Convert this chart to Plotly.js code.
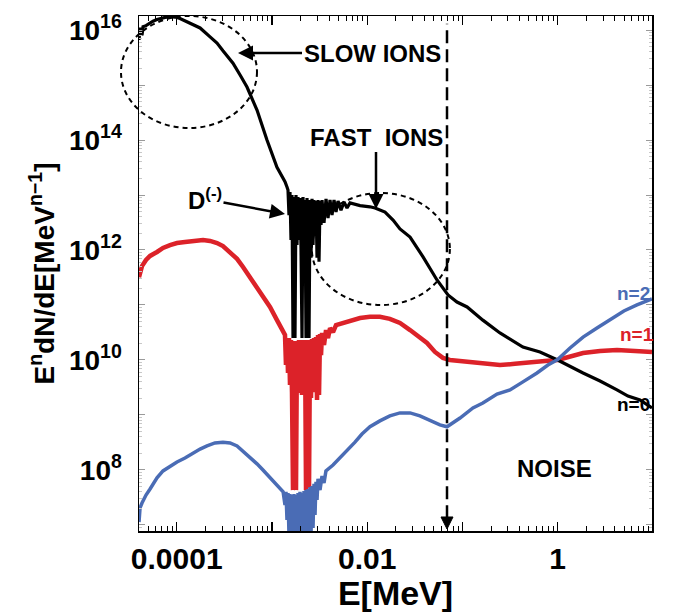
<!DOCTYPE html>
<html>
<head>
<meta charset="utf-8">
<script src="https://cdn.plot.ly/plotly-3.0.1.min.js"></script>
<style>html,body{margin:0;padding:0;background:#fff;}#chart{width:680px;height:612px;}</style>
</head>
<body>
<div id="chart"></div>
<script>
// ---- Data (E in MeV, E^n dN/dE) ----
const n0E = [4.02e-5,4.12e-5,4.32e-5,4.43e-5,4.76e-5,5.25e-5,5.64e-5,6.21e-5,6.68e-5,7.54e-5,8.51e-5,9.60e-5,1.083e-4,1.165e-4,1.38e-4,1.76e-4,2.24e-4,2.65e-4,3.06e-4,3.90e-4,4.63e-4,5.47e-4,6.97e-4,8.87e-4,1.13e-3,1.371e-3,1.439e-3,
  1.474e-3,1.510e-3,1.547e-3,1.585e-3,1.624e-3,1.664e-3,1.704e-3,1.746e-3,1.789e-3,1.833e-3,1.878e-3,1.924e-3,1.971e-3,2.019e-3,2.069e-3,2.119e-3,2.171e-3,2.225e-3,2.279e-3,2.335e-3,2.392e-3,2.451e-3,2.511e-3,2.572e-3,2.635e-3,2.700e-3,2.766e-3,2.834e-3,2.903e-3,2.974e-3,3.047e-3,3.122e-3,3.198e-3,3.277e-3,3.357e-3,3.523e-3,3.698e-3,3.881e-3,4.073e-3,4.275e-3,4.487e-3,4.709e-3,4.943e-3,5.31e-3,5.71e-3,6.14e-3,6.60e-3,
  8.42e-3,1.07e-2,1.21e-2,1.54e-2,1.87e-2,2.21e-2,2.82e-2,3.86e-2,4.57e-2,5.41e-2,7.06e-2,8.77e-2,0.112,0.1355,0.164,0.248,0.432,0.653,1.0,1.85,2.79,4.20,5.48,7.32,9.79];
const n0Y = [6.6e15,1.1e16,8.0e15,1.15e16,1.2e16,1.35e16,1.45e16,1.55e16,1.62e16,1.70e16,1.75e16,1.72e16,1.62e16,1.52e16,1.35e16,1.09e16,7.5e15,5.8e15,4.2e15,2.5e15,1.52e15,9.2e14,3.5e14,1.0e14,3.2e13,1.75e13,1.4e13,
  1.23e13,4.3e12,1.13e13,1.52e12,1.0e13,2.5e10,9.2e12,2.5e10,1.0e13,1.23e12,9.2e12,1.52e12,8.8e12,1.09e12,2.5e10,9.2e12,1.0e12,8.1e12,2.5e10,8.8e12,9.2e11,2.5e10,8.1e12,7.2e11,8.5e12,1.23e12,8.1e12,1.87e12,7.8e12,7.2e11,8.1e12,6.1e11,7.8e12,2.85e12,8.1e12,3.1e12,8.5e12,3.8e12,8.1e12,4.3e12,8.1e12,4.9e12,7.8e12,5.3e12,7.5e12,5.8e12,7.2e12,
  6.4e12,6.1e12,5.8e12,4.9e12,3.5e12,2.41e12,1.72e12,7.5e11,4.7e11,2.85e11,1.52e11,1.13e11,9.2e10,6.9e10,5.3e10,3.1e10,1.72e10,1.40e10,1.0e10,5.8e9,4.15e9,2.85e9,2.2e9,1.87e9,1.34e9];

const n1E = [4.02e-5,4.32e-5,4.76e-5,5.25e-5,6.21e-5,7.18e-5,8.51e-5,1.007e-4,1.222e-4,1.48e-4,1.89e-4,2.24e-4,2.65e-4,3.06e-4,3.63e-4,4.30e-4,4.97e-4,5.89e-4,6.97e-4,8.05e-4,9.54e-4,1.13e-3,1.31e-3,
  1.371e-3,1.404e-3,1.439e-3,1.474e-3,1.510e-3,1.547e-3,1.585e-3,1.624e-3,1.664e-3,1.704e-3,1.746e-3,1.789e-3,1.833e-3,1.878e-3,1.924e-3,1.971e-3,2.019e-3,2.069e-3,2.119e-3,2.171e-3,2.225e-3,2.279e-3,2.335e-3,2.392e-3,2.451e-3,2.511e-3,2.572e-3,2.635e-3,2.700e-3,2.766e-3,2.834e-3,2.903e-3,2.974e-3,3.047e-3,3.122e-3,3.198e-3,3.277e-3,3.357e-3,3.523e-3,3.698e-3,3.881e-3,4.073e-3,4.38e-3,4.709e-3,
  5.19e-3,6.6e-3,8.42e-3,1.07e-2,1.36e-2,1.73e-2,2.21e-2,2.82e-2,3.58e-2,4.25e-2,5.15e-2,6.25e-2,7.39e-2,0.112,0.153,0.248,0.356,0.512,0.736,1.0,1.35,1.85,2.79,4.20,6.48,9.79];
const n1Y = [3.2e11,5.1e11,6.6e11,7.8e11,9.2e11,1.09e12,1.23e12,1.34e12,1.40e12,1.46e12,1.52e12,1.46e12,1.34e12,1.18e12,9.2e11,6.9e11,4.9e11,3.2e11,2.1e11,1.40e11,9.2e10,5.3e10,3.5e10,
  2.85e10,8.1e9,2.5e10,5.8e9,2.5e10,3.5e9,2.3e10,2.5e9,4.3e7,2.21e10,2.85e9,4.3e7,2.21e10,2.5e9,2.3e10,4.3e9,2.21e10,2.3e9,2.3e10,3.5e9,2.21e10,4.3e7,2.3e10,2.3e9,4.7e7,2.3e10,2.04e9,2.41e10,2.6e9,2.5e10,5.3e9,2.6e10,1.87e9,2.85e10,2.3e9,2.97e10,1.23e10,3.1e10,1.87e10,3.5e10,2.5e10,3.8e10,3.2e10,4.3e10,
  4.5e10,5.1e10,5.8e10,6.1e10,6.1e10,5.6e10,4.7e10,3.5e10,2.5e10,2.04e10,1.40e10,1.09e10,1.0e10,9.2e9,8.8e9,8.1e9,8.5e9,9.2e9,9.6e9,1.0e10,1.18e10,1.34e10,1.46e10,1.52e10,1.46e10,1.40e10];

const n2E = [4.02e-5,4.12e-5,4.32e-5,4.76e-5,5.25e-5,6.21e-5,7.18e-5,8.51e-5,1.007e-4,1.222e-4,1.48e-4,1.76e-4,2.08e-4,2.52e-4,3.06e-4,3.63e-4,4.30e-4,4.97e-4,5.89e-4,6.97e-4,8.05e-4,9.54e-4,1.13e-3,1.31e-3,
  1.371e-3,1.404e-3,1.439e-3,1.474e-3,1.510e-3,1.547e-3,1.585e-3,1.624e-3,1.664e-3,1.704e-3,1.746e-3,1.789e-3,1.833e-3,1.878e-3,1.924e-3,1.971e-3,2.019e-3,2.069e-3,2.119e-3,2.171e-3,2.225e-3,2.279e-3,2.335e-3,2.392e-3,2.451e-3,2.511e-3,2.572e-3,2.635e-3,2.700e-3,2.766e-3,2.834e-3,2.903e-3,2.974e-3,3.047e-3,3.198e-3,3.357e-3,3.523e-3,
  3.69e-3,4.38e-3,5.19e-3,6.15e-3,7.45e-3,8.82e-3,1.07e-2,1.36e-2,1.73e-2,2.21e-2,2.82e-2,3.58e-2,4.57e-2,5.81e-2,6.89e-2,7.96e-2,9.44e-2,0.129,0.164,0.231,0.316,0.432,0.607,0.791,1.0,1.35,1.85,2.59,3.55,4.96,6.81,8.26,9.79];
const n2Y = [1.13e7,2.04e7,2.5e7,3.5e7,4.5e7,7.2e7,9.6e7,1.18e8,1.40e8,1.65e8,2.04e8,2.4e8,2.73e8,3.1e8,3.2e8,3.1e8,2.73e8,2.2e8,1.72e8,1.29e8,1.0e8,7.2e7,5.1e7,4.0e7,
  2.3e7,4.0e7,1.23e7,3.8e7,6.6e6,3.66e7,6.6e6,3.5e7,6.6e6,3.66e7,6.6e6,3.5e7,6.6e6,3.8e7,6.6e6,4.0e7,6.6e6,3.8e7,6.6e6,4.15e7,6.6e6,4.3e7,6.6e6,4.5e7,6.6e6,4.9e7,6.6e6,5.1e7,8.8e6,5.6e7,1.52e7,6.1e7,2.85e7,6.9e7,4.3e7,7.8e7,5.8e7,
  9.6e7,1.23e8,1.65e8,2.3e8,3.2e8,4.5e8,6.1e8,7.8e8,9.6e8,1.09e9,1.09e9,9.6e8,8.1e8,6.6e8,6.1e8,7.2e8,8.8e8,1.34e9,1.65e9,2.4e9,2.85e9,4.0e9,5.8e9,8.1e9,1.02e10,1.65e10,2.6e10,3.8e10,5.3e10,7.8e10,1.0e11,1.13e11,1.29e11];

const seriesNames = ['n=0','n=1','n=2'];
const xTickVals = [1e-4,1e-3,1e-2,1e-1,1,10];
const xTickText = ['0.0001','','0.01','','1',''];
const yTickVals = [1e7,1e8,1e9,1e10,1e11,1e12,1e13,1e14,1e15,1e16];
const yTickText = ['','10<sup>8</sup>','','10<sup>10</sup>','','10<sup>12</sup>','','10<sup>14</sup>','','10<sup>16</sup>'];

// ---- styling ----
const RED = '#dc2229', BLUE = '#4a6cb5', BLACK = '#000000';
const ARIAL = 'Liberation Sans, Arial, Helvetica, sans-serif';

function minorTicks(lo, hi){ const v=[]; for(let e=lo;e<hi;e++){ for(let m=2;m<10;m++) v.push(m*Math.pow(10,e)); } return v; }

const traces = [
  {x:n1E, y:n1Y, name:seriesNames[1], mode:'lines', line:{color:RED, width:4.5}},
  {x:n0E, y:n0Y, name:seriesNames[0], mode:'lines', line:{color:BLACK, width:3.2}},
  {x:n2E, y:n2Y, name:seriesNames[2], mode:'lines', line:{color:BLUE, width:3.5}}
];

const annFont = {family:ARIAL, size:24, color:'#000', weight:'bold'};
const layout = {
  width:680, height:612,
  margin:{l:139, r:28, t:16, b:81},
  paper_bgcolor:'#fff', plot_bgcolor:'#fff',
  showlegend:false,
  xaxis:{
    type:'log', range:[-4.396, 0.991], autorange:false,
    tickmode:'array', tickvals:xTickVals, ticktext:xTickText,
    ticks:'inside', ticklen:9, tickwidth:1.2, tickcolor:'#000',
    showline:true, linecolor:'#000', linewidth:1.5, mirror:'allticks',
    showgrid:false, zeroline:false, automargin:false,
    ticklabelstandoff:0,
    tickfont:{family:ARIAL, size:30, color:'#000', weight:'bold'},
    minor:{tickmode:'array', tickvals:minorTicks(-5,1), ticks:'inside', ticklen:5, tickwidth:1, tickcolor:'#000', showgrid:false},
    title:{text:'E[MeV]', font:{family:ARIAL, size:34, color:'#000', weight:'bold'}, standoff:2}
  },
  yaxis:{
    type:'log', range:[6.89, 16.255], autorange:false,
    tickmode:'array', tickvals:yTickVals, ticktext:yTickText,
    ticks:'inside', ticklen:6, tickwidth:1, tickcolor:'#9a9a9a',
    showline:true, linecolor:'#000', linewidth:1.5, mirror:'allticks',
    showgrid:false, zeroline:false, automargin:false,
    ticklabelstandoff:10,
    tickfont:{family:ARIAL, size:28, color:'#000', weight:'bold'},
    minor:{tickmode:'array', tickvals:minorTicks(6,17), ticks:'inside', ticklen:3, tickwidth:1, tickcolor:'#c8c8c8', showgrid:false},
    title:{text:'E<sup>n</sup>dN/dE[MeV<sup>n\u22121</sup>]', font:{family:ARIAL, size:28, color:'#000', weight:'bold'}, standoff:6}
  },
  shapes:[
    {type:'circle', xref:'paper', yref:'paper', x0:-0.0351, x1:0.230, y0:0.7825, y1:1.0, line:{color:'#000', width:2, dash:'5px,4px'}},
    {type:'circle', xref:'paper', yref:'paper', x0:0.337, x1:0.606, y0:0.4388, y1:0.6563, line:{color:'#000', width:2, dash:'5px,4px'}},
    {type:'line', xref:'paper', yref:'paper', x0:0.6004, x1:0.6004, y0:0.025, y1:0.985, line:{color:'#000', width:2.5, dash:'13px,6px'}},
    {type:'path', xref:'paper', yref:'paper', path:'M 0.5887 0.0272 L 0.6121 0.0272 L 0.6004 0.0039 Z', fillcolor:'#000', line:{color:'#000', width:1}}
  ],
  annotations:[
    {xref:'paper', yref:'paper', x:0.193, y:0.928, text:'SLOW IONS', showarrow:true, ax:134, ay:0, arrowhead:2, arrowsize:1.2, arrowwidth:2.5, arrowcolor:'#000', font:annFont},
    {xref:'paper', yref:'paper', x:0.4620, y:0.6252, text:'FAST  IONS', showarrow:true, ax:0, ay:-72, arrowhead:2, arrowsize:1.2, arrowwidth:2.5, arrowcolor:'#000', font:annFont},
    {xref:'paper', yref:'paper', x:0.2846, y:0.6155, text:'D<sup>(-)</sup>', showarrow:true, ax:-80, ay:-15, arrowhead:2, arrowsize:1.2, arrowwidth:2.5, arrowcolor:'#000', font:annFont},
    {xref:'paper', yref:'paper', x:0.8109, y:0.1204, xanchor:'center', yanchor:'middle', text:'NOISE', showarrow:false, font:annFont},
    {xref:'paper', yref:'paper', x:0.9630, y:0.4621, xanchor:'center', yanchor:'middle', text:'n=2', showarrow:false, font:{family:ARIAL, size:19, color:BLUE, weight:'bold'}},
    {xref:'paper', yref:'paper', x:0.9708, y:0.3825, xanchor:'center', yanchor:'middle', text:'n=1', showarrow:false, font:{family:ARIAL, size:19, color:RED, weight:'bold'}},
    {xref:'paper', yref:'paper', x:0.9630, y:0.2447, xanchor:'center', yanchor:'middle', text:'n=0', showarrow:false, font:{family:ARIAL, size:19, color:BLACK, weight:'bold'}}
  ]
};

Plotly.newPlot('chart', traces, layout, {staticPlot:true, displayModeBar:false});
</script>
</body>
</html>
